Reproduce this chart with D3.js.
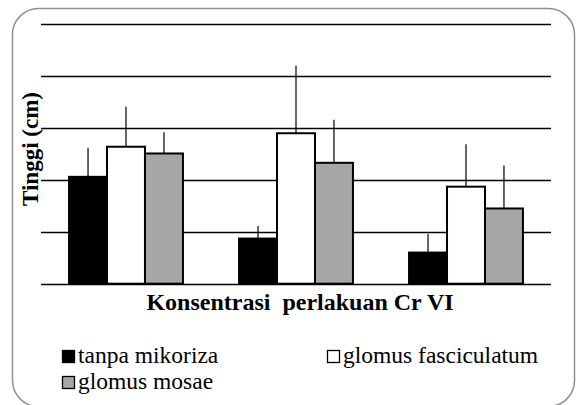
<!DOCTYPE html>
<html>
<head>
<meta charset="utf-8">
<script src="https://cdn.jsdelivr.net/npm/d3@7"></script>
<style>
  body { margin: 0; background: #fff; }
  svg text { font-family: "Liberation Serif", "Times New Roman", Times, "DejaVu Serif", serif; }
</style>
</head>
<body>
<div id="chart"></div>
<script>
// data (units = gridline steps)
var groups = ["A", "B", "C"];
var series = ["tanpa mikoriza", "glomus fasciculatum", "glomus mosae"];
var colors = ["#000000", "#ffffff", "#a6a6a6"];
var means = [
    [2.06, 2.64, 2.51],
    [0.87, 2.90, 2.33],
    [0.60, 1.87, 1.45]
];
var errTops = [
    [2.62, 3.41, 2.92],
    [1.11, 4.20, 3.16],
    [0.96, 2.69, 2.28]
];
var gridTicks = [0, 1, 2, 3, 4, 5];

var drawChart = function() {
    var width = 576, height = 405;
    var plotLeft = 41, plotRight = 551, plotTop = 24.3, plotBottom = 283.7;

    var svg = d3.select('#chart')
        .append('svg')
        .attr('width', width)
        .attr('height', height);

    // outer rounded frame
    svg.append('rect')
        .attr('x', 12.5)
        .attr('y', 8.5)
        .attr('width', 562)
        .attr('height', 398)
        .attr('rx', 26)
        .attr('fill', 'none')
        .attr('stroke', '#909090')
        .attr('stroke-width', 1.5);

    var x0 = d3.scaleBand()
        .domain(groups)
        .range([plotLeft, plotRight])
        .paddingInner(0.33)
        .paddingOuter(0.165);

    var x1 = d3.scaleBand()
        .domain(series)
        .range([0, x0.bandwidth()]);

    var y = d3.scaleLinear()
        .domain([0, 5])
        .range([plotBottom, plotTop]);

    // gridlines
    svg.append('g')
        .selectAll('line')
        .data(gridTicks)
        .join('line')
        .attr('x1', plotLeft)
        .attr('x2', plotRight)
        .attr('y1', function(d) { return Math.round(y(d)) + 0.5; })
        .attr('y2', function(d) { return Math.round(y(d)) + 0.5; })
        .attr('stroke', '#000')
        .attr('stroke-width', 1.4);

    var rows = function(d, i) {
        return series.map(function(s, j) { return { s: s, j: j, v: means[i][j], e: errTops[i][j] }; });
    };

    var g = svg.selectAll('.grp')
        .data(groups)
        .join('g')
        .attr('class', 'grp')
        .attr('transform', function(d) { return 'translate(' + x0(d) + ',0)'; });

    // bars
    g.selectAll('rect')
        .data(rows)
        .join('rect')
        .attr('x', function(d) { return x1(d.s); })
        .attr('y', function(d) { return y(d.v); })
        .attr('width', x1.bandwidth())
        .attr('height', function(d) { return y(0) - y(d.v); })
        .attr('fill', function(d) { return colors[d.j]; })
        .attr('stroke', '#000')
        .attr('stroke-width', 2);

    // error bars (upper only)
    g.selectAll('line.err')
        .data(rows)
        .join('line')
        .attr('class', 'err')
        .attr('x1', function(d) { return x1(d.s) + x1.bandwidth() / 2; })
        .attr('x2', function(d) { return x1(d.s) + x1.bandwidth() / 2; })
        .attr('y1', function(d) { return y(d.v); })
        .attr('y2', function(d) { return y(d.e); })
        .attr('stroke', '#000')
        .attr('stroke-width', 1.2);

    // axis titles
    svg.append('text')
        .text('Tinggi (cm)')
        .attr('transform', 'translate(38,149) rotate(-90)')
        .attr('text-anchor', 'middle')
        .attr('font-weight', 'bold')
        .attr('font-size', 23);

    svg.append('text')
        .text('Konsentrasi\u00a0 perlakuan Cr VI')
        .attr('x', 300)
        .attr('y', 310)
        .attr('text-anchor', 'middle')
        .attr('font-weight', 'bold')
        .attr('font-size', 24);

    // legend
    var legendPos = [[62, 363], [327, 363], [62, 389]];
    var lg = svg.selectAll('.leg')
        .data(series)
        .join('g')
        .attr('class', 'leg')
        .attr('transform', function(d, i) { return 'translate(' + legendPos[i][0] + ',' + legendPos[i][1] + ')'; });

    lg.append('rect')
        .attr('x', 0.5)
        .attr('y', -12.5)
        .attr('width', 12)
        .attr('height', 12)
        .attr('fill', function(d, i) { return colors[i]; })
        .attr('stroke', '#000')
        .attr('stroke-width', 1.3);

    lg.append('text')
        .text(function(d) { return d; })
        .attr('x', 16)
        .attr('y', 0)
        .attr('font-size', 23.5);
};

drawChart();
</script>
</body>
</html>
